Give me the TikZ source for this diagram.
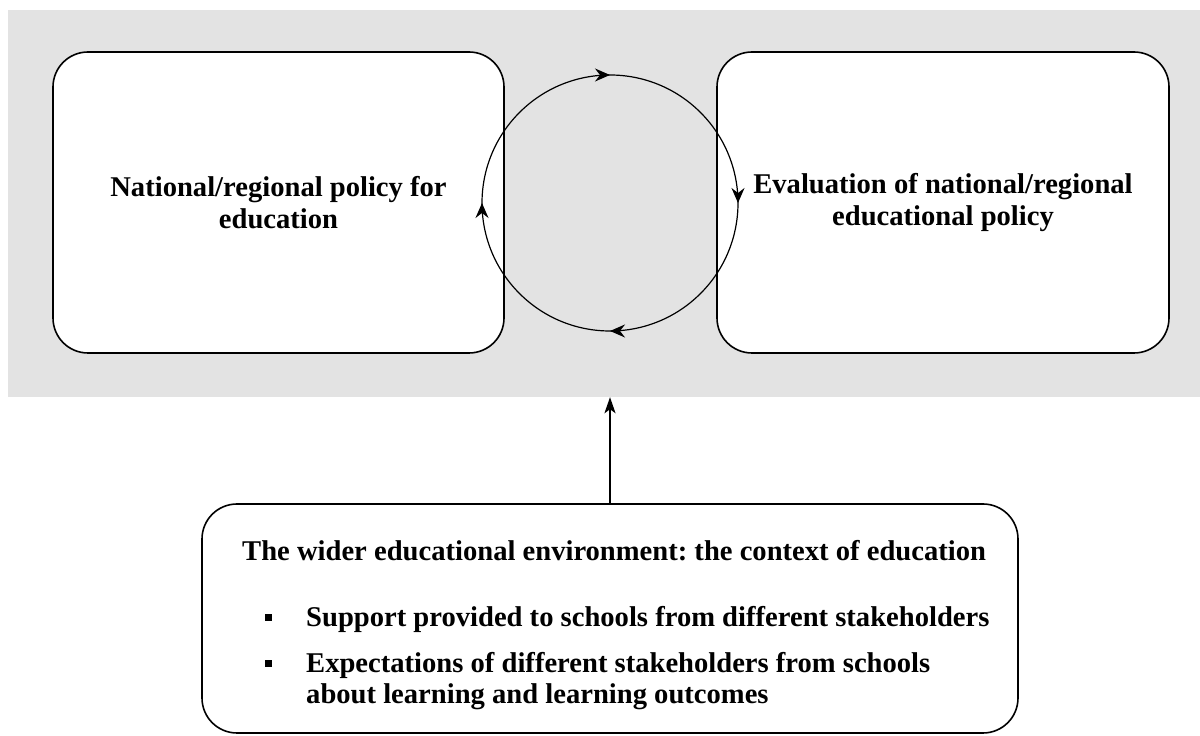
\documentclass[tikz,border=0pt]{standalone}
\usepackage{fontspec}
\setmainfont{Liberation Serif}
\usetikzlibrary{arrows.meta,decorations.markings}
\definecolor{bggray}{HTML}{E3E3E3}
\frenchspacing
\begin{document}
\begin{tikzpicture}[x=1pt,y=1pt,
  txt/.style={font=\fontsize{28.6}{31.5}\selectfont\bfseries, inner sep=0pt},
  roundbox/.style={draw=black, line width=1.6pt, fill=white, rounded corners=35pt,
    align=center, inner sep=0pt, txt},
  cyclearrows/.style={line width=1.2pt, postaction={decorate},
    decoration={markings,
      mark=at position 0.125 with {\arrow{Stealth[length=15pt,width=13pt,inset=5pt]}},
      mark=at position 0.375 with {\arrow{Stealth[length=15pt,width=13pt,inset=5pt]}},
      mark=at position 0.625 with {\arrow{Stealth[length=15pt,width=13pt,inset=5pt]}},
      mark=at position 0.875 with {\arrow{Stealth[length=15pt,width=13pt,inset=5pt]}}}},
  bulletsq/.style={fill=black, minimum size=7pt, inner sep=0pt}]
\useasboundingbox (0,0) rectangle (1200,736);
% background band
\node[fill=bggray, minimum width=1192pt, minimum height=387pt, inner sep=0pt] (band) at (604,532.5) {};
% boxes
\node[roundbox, minimum width=451pt, minimum height=301pt] (policy) at (278.5,533.5)
  {National/regional policy for\\education};
\node[roundbox, minimum width=452pt, minimum height=301pt] (evalbox) at (943,533.5)
  {Evaluation of national/regional\\educational policy};
% cycle
\coordinate (cc) at (610,533);
\draw[cyclearrows] (cc) ++(135:128) arc[start angle=135, end angle=-225, radius=128];
% bottom box
\node[draw=black, line width=1.6pt, fill=white, rounded corners=35pt,
  minimum width=816pt, minimum height=229pt, inner sep=0pt] (context) at (610,117.5) {};
\node[txt, anchor=base west] (ctitle) at (242,175)
  {The wider educational environment: the context of education};
\node[bulletsq] (b1) at (268,118) {};
\node[txt, anchor=base west] (item1) at (306,109)
  {Support provided to schools from different stakeholders};
\node[bulletsq] (b2) at (268,72) {};
\node[txt, anchor=base west, align=left] (item2) at (306,32)
  {Expectations of different stakeholders from schools\\about learning and learning outcomes};
% influence arrow
\draw[line width=2.2pt, -{Stealth[length=16pt,width=11pt,inset=4pt]}] (context.north) -- (context.north |- band.south);
\end{tikzpicture}
\end{document}
